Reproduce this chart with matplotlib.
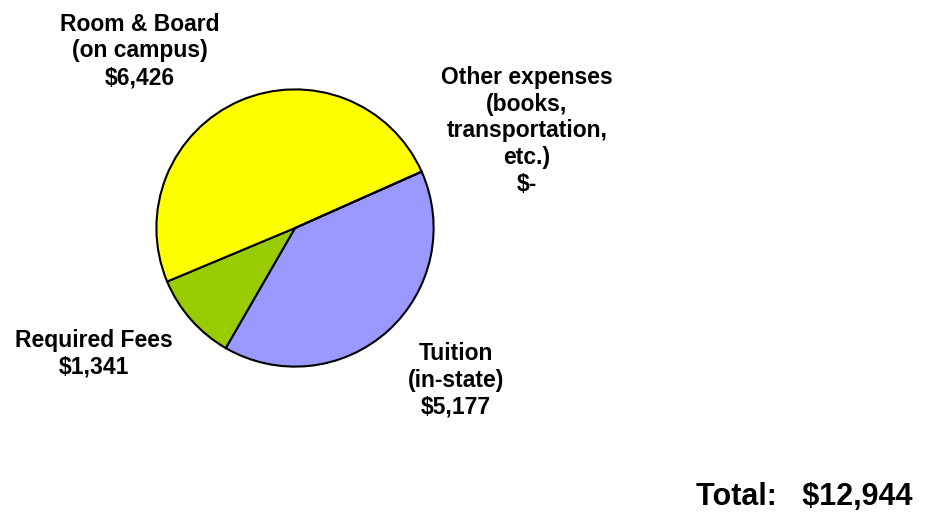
import matplotlib
matplotlib.use("Agg")
import matplotlib.pyplot as plt

# data
categories = ["Tuition\n(in-state)", "Required Fees", "Room & Board\n(on campus)",
              "Other expenses\n(books,\ntransportation,\netc.)"]
values = [5177, 1341, 6426, 0]
value_labels = ["$5,177", "$1,341", "$6,426", "$-"]
colors = ["#9999FF", "#99CC00", "#FFFF00", "#FFFFFF"]
total_label = "Total:   $12,944"

plt.rcParams['font.family'] = ['Liberation Sans', 'DejaVu Sans']

W, H = 927, 522
fig = plt.figure(figsize=(W / 100, H / 100), dpi=100)

cx, cy, r = 295, 228, 140
ax = fig.add_axes([(cx - r) / W, 1 - (cy + r) / H, 2 * r / W, 2 * r / H])
ax.pie(values, colors=colors, startangle=24, counterclock=False, radius=1,
       wedgeprops=dict(edgecolor="black", linewidth=1.5))
ax.set_xlim(-1.01, 1.01)
ax.set_ylim(-1.01, 1.01)
ax.set_aspect("equal")
ax.axis("off")

# label positions in pixels (centre of text block)
label_pos = [(456, 380), (94, 354), (140, 51), (527, 131)]
for cat, val, (px, py) in zip(categories, value_labels, label_pos):
    fig.text(px / W, 1 - py / H, cat + "\n" + val, ha="center", va="center",
             fontsize=16.5, fontweight="bold", linespacing=1.22)

fig.text(912 / W, 1 - 497 / H, total_label, ha="right", va="center",
         fontsize=22, fontweight="bold")

fig.savefig("out.png", dpi=100)
